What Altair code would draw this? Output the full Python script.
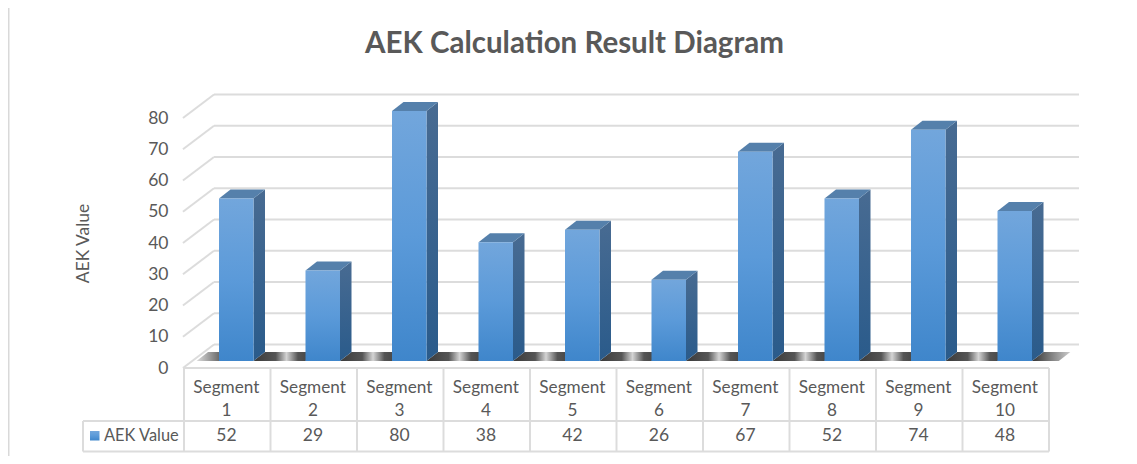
import altair as alt
import pandas as pd

segments = ["Segment\n1", "Segment\n2", "Segment\n3", "Segment\n4", "Segment\n5",
            "Segment\n6", "Segment\n7", "Segment\n8", "Segment\n9", "Segment\n10"]
values = [52, 29, 80, 38, 42, 26, 67, 52, 74, 48]
ticks = [0, 10, 20, 30, 40, 50, 60, 70, 80]
series = "AEK Value"

FONT = "Lato"
GRID = "#dcdcdc"
TXT = "#595959"
# one x unit = one table column (86.5 px); one y unit = one AEK point (3.125 px)
PX = 86.5
PY = 3.125
W, H = 1121, 448
xs = alt.Scale(domain=[(8 - 184) / PX, (8 + W - 184) / PX], nice=False, zero=False)
ys = alt.Scale(domain=[(368 - 8 - H) / PY, (368 - 8) / PY], nice=False, zero=False)
y_axis = alt.Axis(
    values=ticks, orient="left", offset=-160, domain=False, ticks=False, grid=False,
    labelFont=FONT, labelFontSize=17.5, labelColor=TXT, labelPadding=0,
    title=series, titleFont=FONT, titleFontSize=17.4, titleFontWeight="normal",
    titleColor=TXT, titleX=-76, titleY=235)
X = lambda f, **k: alt.X(f, type="quantitative", scale=xs, axis=None, **k)
Y = lambda f, **k: alt.Y(f, type="quantitative", scale=ys, axis=y_axis, **k)

wall_dx, wall_dy = 30 / PX, 23.5 / PY
bar_off, bar_w = 35 / PX, 34.5 / PX
bar_base = 7 / PY
depth_dx, depth_dy = 11.5 / PX, 9 / PY
row1, row2 = -53 / PY, -83.5 / PY
leg_l = (83 - 184) / PX


def grad(stops, horizontal=False):
    return alt.Gradient(gradient="linear", x1=0, y1=0,
                        x2=1 if horizontal else 0, y2=0 if horizontal else 1,
                        stops=[alt.GradientStop(offset=o, color=c) for o, c in stops])


FRONT = grad([(0, "#72a6dc"), (0.5, "#5b9ad9"), (1, "#3f86cb")])
SIDE = grad([(0, "#486b92"), (1, "#2a5b8b")])

# wall grid lines and floor edges
grid_df = pd.DataFrame({"v": ticks})
grid_df["y"] = grid_df.v + wall_dy
grid_df["x0"] = wall_dx
grid_df["x1"] = wall_dx + 10
back = alt.Chart(grid_df).mark_rule(color=GRID, strokeWidth=2).encode(
    x=X("x0"), x2="x1", y=Y("y"))
slant_rows = []
for t in ticks:
    slant_rows += [{"t": t, "x": -0.012, "y": t}, {"t": t, "x": wall_dx, "y": t + wall_dy}]
slant = alt.Chart(pd.DataFrame(slant_rows)).mark_line(color=GRID, strokeWidth=2).encode(
    x=X("x"), y=Y("y"), detail="t:N")

# floor shadow strip between bars
n = len(values)
lefts = [bar_off + i for i in range(n)]
shadow_layers = []
spans = [(lefts[0] - 0.26, lefts[0], [(0, "#dddddd"), (1, "#333333")])]
for i in range(n - 1):
    spans.append((lefts[i] + bar_w, lefts[i + 1],
                  [(0, "#3a3a3a"), (0.35, "#555555"), (0.52, "#d4d4d4"), (0.7, "#555555"), (1, "#3a3a3a")]))
spans.append((lefts[-1] + bar_w, lefts[-1] + bar_w + 0.31, [(0, "#333333"), (1, "#cccccc")]))
for k, (a, b, st) in enumerate(spans):
    d = pd.DataFrame({"y": [bar_base, bar_base + depth_dy],
                      "x": [a, a + depth_dx], "x2": [b, b + depth_dx]})
    shadow_layers.append(
        alt.Chart(d).mark_area(orient="horizontal", color=grad(st, True)).encode(
            y=Y("y"), x=X("x"), x2="x2"))

# bars: front, side and top faces
front_df = pd.DataFrame({
    "segment": segments, "value": values,
    "x": lefts, "x2": [l + bar_w for l in lefts],
    "y": [bar_base] * n, "y2": [bar_base + v for v in values]})
front = alt.Chart(front_df).mark_rect(color=FRONT).encode(
    x=X("x"), x2="x2", y=Y("y"), y2="y2")

side_rows, top_rows = [], []
for i, v in enumerate(values):
    r = lefts[i] + bar_w
    side_rows += [
        {"i": i, "x": r, "y": bar_base, "y2": bar_base + v},
        {"i": i, "x": r + depth_dx, "y": bar_base + depth_dy, "y2": bar_base + depth_dy + v}]
    t = bar_base + v
    top_rows += [
        {"i": i, "y": t, "x": lefts[i], "x2": r},
        {"i": i, "y": t + depth_dy, "x": lefts[i] + depth_dx, "x2": r + depth_dx}]
side = alt.Chart(pd.DataFrame(side_rows)).mark_area(color=SIDE).encode(
    x=X("x"), y=Y("y"), y2="y2", detail="i:N")
top = alt.Chart(pd.DataFrame(top_rows)).mark_area(orient="horizontal", color="#5580ab").encode(
    y=Y("y"), x=X("x"), x2="x2", detail="i:N")

# data table
h_df = pd.DataFrame({"y": [0, row1, row2], "x": [0, leg_l, leg_l], "x2": [10, 10, 10]})
hlines = alt.Chart(h_df).mark_rule(color=GRID, strokeWidth=2).encode(x=X("x"), x2="x2", y=Y("y"))
v_df = pd.DataFrame({"x": list(range(11)) + [leg_l],
                     "y": [0] * 11 + [row1], "y2": [row2] * 12})
vlines = alt.Chart(v_df).mark_rule(color=GRID, strokeWidth=2).encode(x=X("x"), y=Y("y"), y2="y2")

tbl = pd.DataFrame({"segment": segments, "value": values, "x": [i + 0.49 for i in range(n)]})
tbl["y1"] = 19.5 * -1 / PY
tbl["y2"] = (row1 + row2) / 2
seg_text = alt.Chart(tbl).mark_text(font=FONT, fontSize=17.2, color=TXT, lineBreak="\n",
                                    lineHeight=23.5, baseline="middle").encode(
    x=X("x"), y=Y("y1"), text="segment:N")
val_text = alt.Chart(tbl).mark_text(font=FONT, fontSize=17.5, color=TXT, baseline="middle").encode(
    x=X("x"), y=Y("y2"), text="value:Q")

leg_df = pd.DataFrame({"t": [series], "x": [(90 - 184) / PX], "x2": [(99.5 - 184) / PX],
                       "tx": [(104 - 184) / PX], "y": [-63 / PY], "y2": [-72.5 / PY],
                       "ty": [(row1 + row2) / 2]})
swatch = alt.Chart(leg_df).mark_rect(color=FRONT).encode(x=X("x"), x2="x2", y=Y("y"), y2="y2")
leg_text = alt.Chart(leg_df).mark_text(font=FONT, fontSize=16.4, color=TXT, align="left",
                                       baseline="middle").encode(
    x=X("tx"), y=Y("ty"), text="t:N")

frame = alt.Chart(pd.DataFrame({"a": [0]})).mark_rule(color="#d9d9d9", strokeWidth=2).encode(
    x=alt.value(0.5), y=alt.value(0), y2=alt.value(H))

chart = alt.layer(
    frame, back, slant, *shadow_layers, side, top, front,
    hlines, vlines, seg_text, val_text, swatch, leg_text,
).properties(
    width=W, height=H,
    padding=0,
    autosize=alt.AutoSizeParams(type="none"),
    title=alt.TitleParams("AEK Calculation Result Diagram", font=FONT, fontSize=29.5,
                          fontWeight="bold", color=TXT, anchor="middle", dy=56, dx=6),
).configure_view(stroke=None)

chart.save("out.html", embed_options={"renderer": "svg", "actions": False})
